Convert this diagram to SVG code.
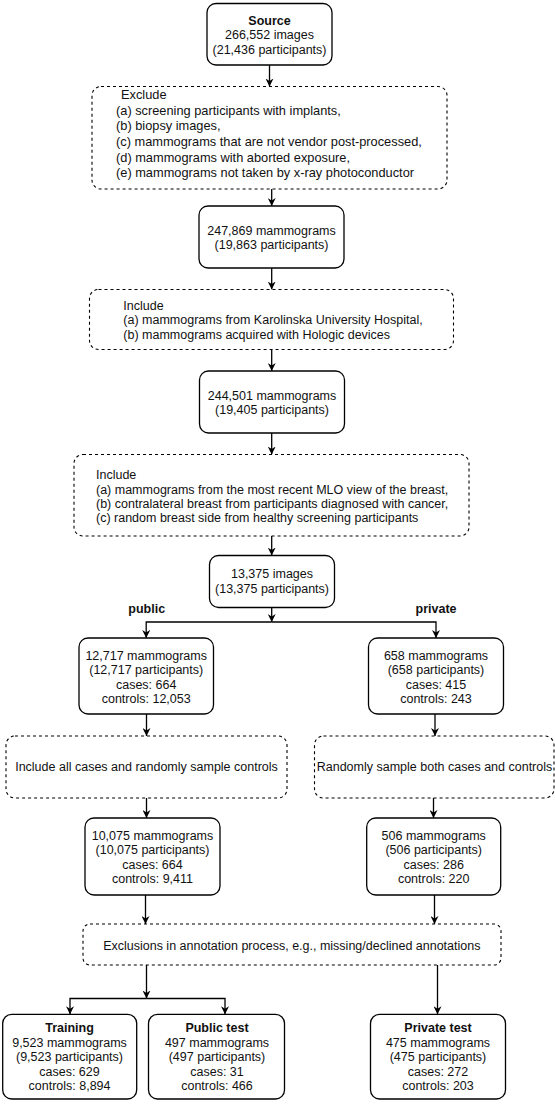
<svg xmlns="http://www.w3.org/2000/svg" width="555" height="1104" viewBox="0 0 555 1104">
<style>
  .box{fill:#fff;stroke:#000;stroke-width:1.3}
  .dash{fill:#fff;stroke:#000;stroke-width:1.1;stroke-dasharray:3,3}
  text{font-family:"Liberation Sans",Arial,sans-serif;font-size:12.5px;fill:#111}
  .ex{font-size:12.8px}
  .c{text-anchor:middle}
  .b{font-weight:bold}
  .edge{fill:none;stroke:#000;stroke-width:1.3}
</style>
<defs>
  <marker id="arr" viewBox="0 0 10 10" refX="10" refY="5" markerWidth="8" markerHeight="8" markerUnits="userSpaceOnUse" orient="auto">
    <path d="M0,0 L10,5 L0,10 L3,5 z" fill="#000"/>
  </marker>
</defs>

<g id="connectors">
  <path class="edge" d="M269.5,65 V86.5" marker-end="url(#arr)"/>
  <path class="edge" d="M271.7,189 V206" marker-end="url(#arr)"/>
  <path class="edge" d="M271.7,268 V289.5" marker-end="url(#arr)"/>
  <path class="edge" d="M271.7,349.5 V371" marker-end="url(#arr)"/>
  <path class="edge" d="M271.7,433 V454.5" marker-end="url(#arr)"/>
  <path class="edge" d="M271.7,536 V555.5" marker-end="url(#arr)"/>
  <path class="edge" d="M271.7,607.5 V622" marker-end="url(#arr)"/>
  <path class="edge" d="M271.7,622 H146.2 V638" marker-end="url(#arr)"/>
  <path class="edge" d="M271.7,622 H436 V638" marker-end="url(#arr)"/>
  <path class="edge" d="M146.5,714 V736" marker-end="url(#arr)"/>
  <path class="edge" d="M435,714 V736" marker-end="url(#arr)"/>
  <path class="edge" d="M146.5,798 V818" marker-end="url(#arr)"/>
  <path class="edge" d="M433.5,798 V818" marker-end="url(#arr)"/>
  <path class="edge" d="M145.5,895 V924" marker-end="url(#arr)"/>
  <path class="edge" d="M434.5,895 V924" marker-end="url(#arr)"/>
  <path class="edge" d="M146.5,965 V998.5" marker-end="url(#arr)"/>
  <path class="edge" d="M146.5,998.5 H70 V1014.3" marker-end="url(#arr)"/>
  <path class="edge" d="M146.5,998.5 H225 V1014.3" marker-end="url(#arr)"/>
  <path class="edge" d="M437.5,965 V1014.3" marker-end="url(#arr)"/>
</g>

<g id="source">
  <rect class="box" x="207" y="3.5" width="125" height="61.5" rx="9"/>
  <text class="c b" x="269.5" y="25">Source</text>
  <text class="c" x="269.5" y="39.3">266,552 images</text>
  <text class="c" x="269.5" y="53.6">(21,436 participants)</text>
</g>

<g id="exclude">
  <rect class="dash" x="92" y="86.5" width="355" height="102.5" rx="9"/>
  <text class="ex" x="121" y="99.2">Exclude</text>
  <text class="ex" x="116" y="114.8">(a) screening participants with implants,</text>
  <text class="ex" x="116" y="130.4">(b) biopsy images,</text>
  <text class="ex" x="116" y="146">(c) mammograms that are not vendor post-processed,</text>
  <text class="ex" x="116" y="161.6">(d) mammograms with aborted exposure,</text>
  <text class="ex" x="116" y="177.2">(e) mammograms not taken by x-ray photoconductor</text>
</g>

<g id="n247869">
  <rect class="box" x="199" y="206" width="145" height="62" rx="9"/>
  <text class="c" x="271.5" y="235">247,869 mammograms</text>
  <text class="c" x="271.5" y="248.5">(19,863 participants)</text>
</g>

<g id="include1">
  <rect class="dash" x="89.5" y="289.5" width="364" height="60" rx="9"/>
  <text x="123.3" y="310">Include</text>
  <text x="123.3" y="324.3">(a) mammograms from Karolinska University Hospital,</text>
  <text x="123.3" y="338.5">(b) mammograms acquired with Hologic devices</text>
</g>

<g id="n244501">
  <rect class="box" x="199.5" y="371" width="145" height="62" rx="9"/>
  <text class="c" x="272" y="400">244,501 mammograms</text>
  <text class="c" x="272" y="414">(19,405 participants)</text>
</g>

<g id="include2">
  <rect class="dash" x="74" y="454.5" width="395" height="81.5" rx="9"/>
  <text x="96" y="479">Include</text>
  <text x="96" y="494">(a) mammograms from the most recent MLO view of the breast,</text>
  <text x="96" y="508">(b) contralateral breast from participants diagnosed with cancer,</text>
  <text x="96" y="522.3">(c) random breast side from healthy screening participants</text>
</g>

<g id="n13375">
  <rect class="box" x="209.5" y="555.5" width="125" height="52" rx="9"/>
  <text class="c" x="272" y="577.5">13,375 images</text>
  <text class="c" x="272" y="592.5">(13,375 participants)</text>
</g>

<g id="label-public"><text class="c b" x="146.7" y="612.5">public</text></g>
<g id="label-private"><text class="c b" x="436" y="612.5">private</text></g>

<g id="n12717">
  <rect class="box" x="79" y="638" width="134.5" height="76" rx="9"/>
  <text class="c" x="146.2" y="660">12,717 mammograms</text>
  <text class="c" x="146.2" y="674.3">(12,717 participants)</text>
  <text class="c" x="146.2" y="688.6">cases: 664</text>
  <text class="c" x="146.2" y="703">controls: 12,053</text>
</g>

<g id="n658">
  <rect class="box" x="368.5" y="638" width="135" height="76" rx="9"/>
  <text class="c" x="436" y="660">658 mammograms</text>
  <text class="c" x="436" y="674.3">(658 participants)</text>
  <text class="c" x="436" y="688.6">cases: 415</text>
  <text class="c" x="436" y="703">controls: 243</text>
</g>

<g id="sample-public">
  <rect class="dash" x="6" y="736" width="281" height="62" rx="9"/>
  <text class="c" x="146.5" y="771">Include all cases and randomly sample controls</text>
</g>

<g id="sample-private">
  <rect class="dash" x="314.5" y="736" width="239.5" height="62" rx="9"/>
  <text class="c" x="434.5" y="771">Randomly sample both cases and controls</text>
</g>

<g id="n10075">
  <rect class="box" x="85" y="818" width="135" height="77" rx="9"/>
  <text class="c" x="152.5" y="840">10,075 mammograms</text>
  <text class="c" x="152.5" y="854.3">(10,075 participants)</text>
  <text class="c" x="152.5" y="868.7">cases: 664</text>
  <text class="c" x="152.5" y="883">controls: 9,411</text>
</g>

<g id="n506">
  <rect class="box" x="366.7" y="818" width="134" height="77" rx="9"/>
  <text class="c" x="433.7" y="840">506 mammograms</text>
  <text class="c" x="433.7" y="854.3">(506 participants)</text>
  <text class="c" x="433.7" y="868.7">cases: 286</text>
  <text class="c" x="433.7" y="883">controls: 220</text>
</g>

<g id="exclusions">
  <rect class="dash" x="83" y="924" width="418" height="41" rx="7"/>
  <text class="c" x="291.8" y="950">Exclusions in annotation process, e.g., missing/declined annotations</text>
</g>

<g id="training">
  <rect class="box" x="2.7" y="1014.3" width="134" height="84.7" rx="9"/>
  <text class="c b" x="69.5" y="1032">Training</text>
  <text class="c" x="69.5" y="1046.5">9,523 mammograms</text>
  <text class="c" x="69.5" y="1061">(9,523 participants)</text>
  <text class="c" x="69.5" y="1075.5">cases: 629</text>
  <text class="c" x="69.5" y="1090">controls: 8,894</text>
</g>

<g id="public-test">
  <rect class="box" x="148.5" y="1014.3" width="136" height="84.7" rx="9"/>
  <text class="c b" x="217" y="1032">Public test</text>
  <text class="c" x="217" y="1046.5">497 mammograms</text>
  <text class="c" x="217" y="1061">(497 participants)</text>
  <text class="c" x="217" y="1075.5">cases: 31</text>
  <text class="c" x="217" y="1090">controls: 466</text>
</g>

<g id="private-test">
  <rect class="box" x="370.5" y="1014.3" width="135" height="84.7" rx="9"/>
  <text class="c b" x="438" y="1032">Private test</text>
  <text class="c" x="438" y="1046.5">475 mammograms</text>
  <text class="c" x="438" y="1061">(475 participants)</text>
  <text class="c" x="438" y="1075.5">cases: 272</text>
  <text class="c" x="438" y="1090">controls: 203</text>
</g>
</svg>
